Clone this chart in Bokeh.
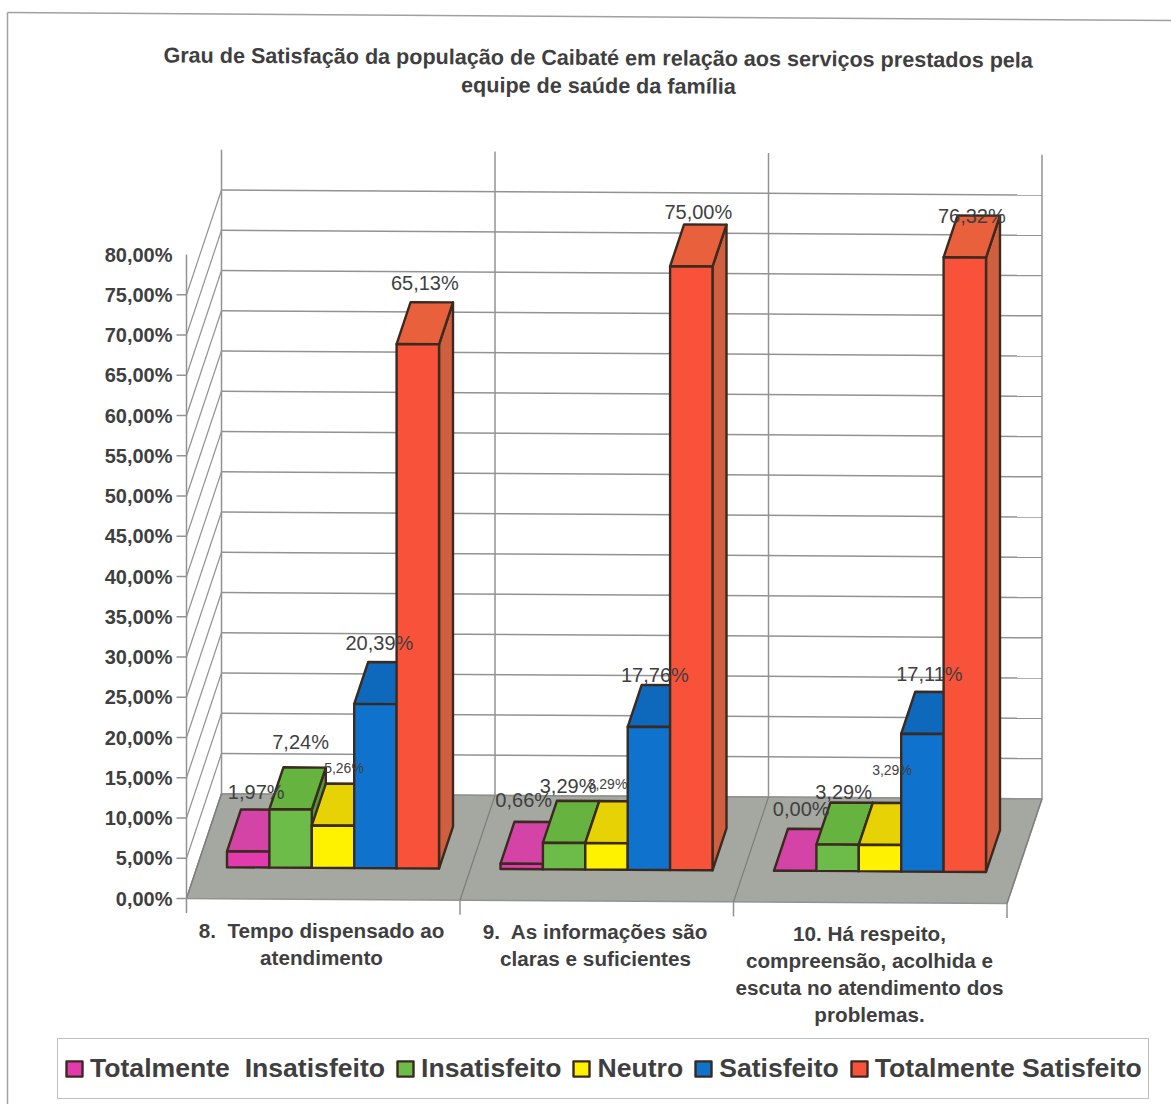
from bokeh.embed import file_html
from bokeh.resources import INLINE
from bokeh.plotting import figure
from bokeh.core.properties import value
from bokeh.models import ColumnDataSource, Legend, LegendItem, Range1d

CATEGORIES = [
    ["8.\u00a0 Tempo dispensado ao", "atendimento"],
    ["9.\u00a0 As informações são", "claras e suficientes"],
    ["10. Há respeito,", "compreensão, acolhida e", "escuta no atendimento dos", "problemas."],
]
SERIES = ["Totalmente  Insatisfeito", "Insatisfeito", "Neutro", "Satisfeito", "Totalmente Satisfeito"]
TOT_INSAT = [1.97, 0.66, 0.00]
INSAT = [7.24, 3.29, 3.29]
NEUTRO = [5.26, 3.29, 3.29]
SATISF = [20.39, 17.76, 17.11]
TOT_SATISF = [65.13, 75.00, 76.32]
VALUES = [TOT_INSAT, INSAT, NEUTRO, SATISF, TOT_SATISF]
TICKS = list(range(0, 85, 5))
TICK_LABELS = [f"{t},00%" for t in TICKS]
TITLE_LINES = ["Grau de Satisfação da população de Caibaté em relação aos serviços prestados pela",
               "equipe de saúde da família"]

FRONT = ["#E23BAE", "#6DBB48", "#FFF200", "#0F73CE", "#F9523A"]
TOP = ["#D344A6", "#66B340", "#E6D205", "#0E68BC", "#E9603C"]
SIDE = ["#B83A8E", "#559A38", "#C8B60A", "#0B5AA2", "#CF5F3E"]
EDGE = "#3A2A20"
TEXT = "#3F3F3F"
GRID = "#929292"

# Canvas scale: pixels per category and per percentage point.
W, H = 1171, 1104
LEFT, ZERO = 186, 898
PX_CAT, PX_PCT = 273.5, 8.05
DEPTH_X, DEPTH_Y = 35 / PX_CAT, 105 / PX_PCT   # data units of one full chart depth
TILT = 0.0062 * PX_CAT / PX_PCT                # slight downward lean to the right


def pt(c, v, d=0.0):
    """Data position of category offset c, percentage v, depth d (0 front, 1 back)."""
    x = c + DEPTH_X * d
    return x, v + DEPTH_Y * d - TILT * x


def xs_ys(points):
    pairs = [pt(*q) for q in points]
    return [a for a, _ in pairs], [b for _, b in pairs]


def px_x(px):
    return (px - LEFT) / PX_CAT


def px_y(py):
    return (ZERO - py) / PX_PCT


p = figure(width=W, height=H, output_backend="svg", toolbar_location=None,
           x_range=Range1d(px_x(0), px_x(W)), y_range=Range1d(px_y(H), px_y(0)),
           min_border=0, x_axis_location=None, y_axis_location=None,
           outline_line_color=None, background_fill_color="white")
p.grid.visible = False

# Page rules along the top and left.
p.line([px_x(7), px_x(W)], [px_y(12), px_y(20)], line_color="#A0A0A0", line_width=1.5)
p.line([px_x(7), px_x(7)], [px_y(12), px_y(H)], line_color="#A0A0A0", line_width=1.5)

# Floor.
fx, fy = xs_ys([(0, 0, 0), (3, 0, 0), (3, 0, 1), (0, 0, 1)])
p.patch(fx, fy, fill_color="#A5A8A1", line_color=GRID, line_width=1.5)

# Back-wall grid and left-wall slants.
for t in TICKS[:-1]:
    x, y = xs_ys([(0, t, 1), (3, t, 1)])
    p.line(x, y, line_color=GRID, line_width=1.5)
    x, y = xs_ys([(0, t, 0), (0, t, 1)])
    p.line(x, y, line_color=GRID, line_width=1.2)

# Wall verticals, floor dividers and the drop ticks under the front edge.
for c in range(4):
    x, y = xs_ys([(c, 0, 1), (c, 80, 1)])
    p.line(x, y, line_color=GRID, line_width=1.5)
    x, y = xs_ys([(c, 0, 0), (c, 0, 1)])
    p.line(x, y, line_color="#7C7C7C", line_width=1.2)
    x, y = xs_ys([(c, -1.8, 0), (c, 0, 0)])
    p.line(x, y, line_color=GRID, line_width=1.5)

# Value axis on the front left edge: rule, outward ticks and labels.
p.line([0, 0], [TICKS[0], TICKS[-1]], line_color=GRID, line_width=1.5)
p.segment([px_x(176)] * (len(TICKS) - 1), TICKS[:-1], [0] * (len(TICKS) - 1), TICKS[:-1],
          line_color=GRID, line_width=1.5)
p.text([px_x(172)] * len(TICKS), TICKS, TICK_LABELS, text_align="right", text_baseline="middle",
       text_font=value("Liberation Sans"), text_font_style="bold", text_font_size="20px", text_color=TEXT)

# Bars: side, top, then front of each series, drawn left to right.
GAP = 30 / PX_CAT
BAR_W = 42.4 / PX_CAT
D0, D1 = 31.5 / 105, 73.5 / 105
fronts = []
for s, vals in enumerate(VALUES):
    sides, tops, faces = ([], []), ([], []), ([], [])
    for c, v in enumerate(vals):
        a = c + GAP + s * BAR_W
        b = a + BAR_W
        for store, quad in (
            (sides, [(b, 0, D0), (b, 0, D1), (b, v, D1), (b, v, D0)]),
            (tops, [(a, v, D0), (b, v, D0), (b, v, D1), (a, v, D1)]),
            (faces, [(a, 0, D0), (b, 0, D0), (b, v, D0), (a, v, D0)]),
        ):
            qx, qy = xs_ys(quad)
            store[0].append(qx)
            store[1].append(qy)
    for store, colour in ((sides, SIDE[s]), (tops, TOP[s])):
        p.patches(store[0], store[1], fill_color=colour, line_color=EDGE, line_width=2.4, line_join="round")
    fronts.append(p.patches(faces[0], faces[1], fill_color=FRONT[s], line_color=EDGE, line_width=2.4,
                            line_join="round"))

# Value labels, nudged per bar in pixels from the top of the bar's rear edge.
NUDGE_X = [[8, 2, 6], [10, 4, 6], [11, 1, 12], [4, 6, 7], [7, 7, 7]]
NUDGE_Y = [[18, 22, 20], [25, 15, 11], [16, 17, 33], [19, 10, 18], [19, 12, -1]]
for s, vals in enumerate(VALUES):
    rows = {"x": [], "y": [], "t": []}
    for c, v in enumerate(vals):
        mid = c + GAP + (s + 0.5) * BAR_W + DEPTH_X * D0 + NUDGE_X[s][c] / PX_CAT
        _, y = pt(mid - DEPTH_X * D1, v + NUDGE_Y[s][c] / PX_PCT, D1)
        rows["x"].append(mid)
        rows["y"].append(y)
        rows["t"].append(f"{v:.2f}".replace(".", ",") + "%")
    p.text("x", "y", "t", source=ColumnDataSource(rows), text_align="center", text_baseline="middle",
           text_font=value("Liberation Sans"), text_color=TEXT,
           text_font_size="14px" if s == 2 else "20px")

# Chart title, following the same lean as the plot.
for line, cy in zip(TITLE_LINES, (57, 85)):
    p.text([px_x(598)], [px_y(cy)], [line], text_align="center", text_baseline="middle", angle=-0.0058,
           text_font=value("Liberation Sans"), text_font_style="bold", text_font_size="21.6px", text_color=TEXT)

# Category captions, one text per line.
for lines, cx, cy in zip(CATEGORIES, (321, 595, 869), (929.5, 930.5, 932.5)):
    for n, line in enumerate(lines):
        p.text([px_x(cx)], [px_y(cy + n * 27.2)], [line], text_align="center", text_baseline="middle",
               text_font=value("Liberation Sans"), text_font_style="bold", text_font_size="20.7px", text_color=TEXT)

legend = Legend(
    items=[LegendItem(label=value(name), renderers=[r]) for name, r in zip(SERIES, fronts)],
    orientation="horizontal", location=(57, H - 1099),
    glyph_width=20, glyph_height=19, label_standoff=6, spacing=10, padding=6, margin=0, label_height=47,
    label_text_font="Liberation Sans", label_text_font_style="bold", label_text_font_size="26.6px",
    label_text_color=TEXT, border_line_color="#808080", border_line_width=1.5,
    background_fill_color="white", background_fill_alpha=1.0,
)
p.add_layout(legend)

open("out.html", "w").write(file_html(p, INLINE))
